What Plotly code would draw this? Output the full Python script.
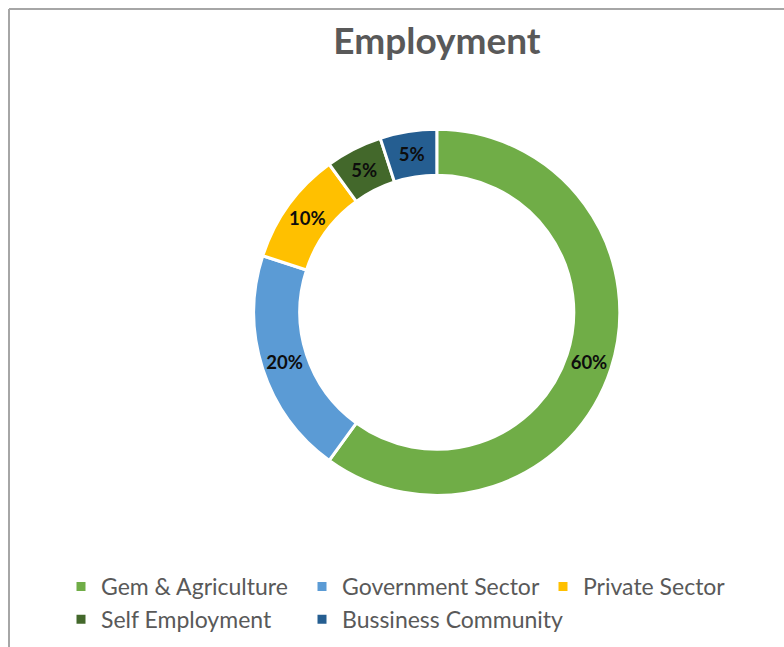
import plotly.graph_objects as go

# Employment share by sector
sectors = ["Gem & Agriculture", "Government Sector", "Private Sector",
           "Self Employment", "Bussiness Community"]
shares = [60, 20, 10, 5, 5]
colors = ["#70AD47", "#5B9BD5", "#FFC000", "#43682B", "#255E91"]

W, H = 784, 647
cx, cy, R = 436.8, 312.3, 183

fig = go.Figure(go.Pie(
    labels=sectors,
    values=shares,
    sort=False,
    direction="clockwise",
    rotation=0,
    hole=0.7486,
    marker=dict(colors=colors, line=dict(color="white", width=3)),
    textinfo="percent",
    texttemplate="%{percent:.0%}",
    textposition="inside",
    insidetextorientation="horizontal",
    textfont=dict(family="Lato", size=18.5, color="#0D0D0D", weight="bold"),
    domain=dict(x=[(cx - R) / W, (cx + R) / W],
                y=[1 - (cy + R) / H, 1 - (cy - R) / H]),
    hoverinfo="label+percent",
))

fig.update_layout(
    width=W, height=H,
    margin=dict(l=0, r=0, t=0, b=0),
    paper_bgcolor="white",
    plot_bgcolor="white",
    title=dict(text="<b>Employment</b>", x=437 / W, xanchor="center",
               y=1 - 41 / H, yanchor="middle",
               font=dict(family="Lato", size=37, color="#595959")),
    uniformtext=dict(minsize=18.5, mode="show"),
    legend=dict(
        orientation="h",
        x=61 / W, xanchor="left",
        y=1 - 565 / H, yanchor="top",
        font=dict(family="Lato", size=23, color="#595959"),
        entrywidth=196,
        entrywidthmode="pixels",
        tracegroupgap=0,
        bgcolor="rgba(0,0,0,0)",
    ),
    shapes=[
        dict(type="line", xref="paper", yref="paper",
             x0=9 / W, x1=1.01, y0=1 - 9 / H, y1=1 - 9 / H,
             line=dict(color="#A6A6A6", width=2)),
        dict(type="line", xref="paper", yref="paper",
             x0=9 / W, x1=9 / W, y0=1 - 9 / H, y1=-0.01,
             line=dict(color="#A6A6A6", width=2)),
    ],
)

fig.write_html("out.html")
